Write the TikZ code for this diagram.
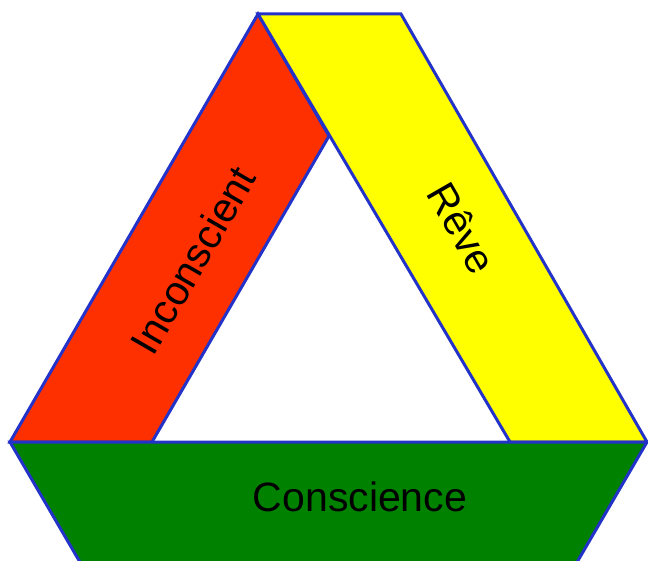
\documentclass[tikz,border=0pt]{standalone}
\usepackage{fontspec}
\setmainfont{Liberation Sans}
\definecolor{bandred}{RGB}{255,48,0}
\definecolor{bandyellow}{RGB}{255,255,0}
\definecolor{bandgreen}{RGB}{0,130,0}
\definecolor{edgeblue}{RGB}{35,50,200}
\begin{document}
\begin{tikzpicture}[x=1pt,y=-1pt,
  band/.style={draw=edgeblue,line width=3pt,line join=miter},
  lbl/.style={font=\fontsize{41}{41}\selectfont,text=black,inner sep=0pt}]
\useasboundingbox (0,0) rectangle (648,561);
\clip (0,0) rectangle (648,561);
\coordinate (apex) at (258,14);
\coordinate (tr) at (401,14);
\coordinate (in) at (329,136);
\coordinate (bl) at (10,442);
\coordinate (br) at (647,442);
\coordinate (ibl) at (152,442);
\coordinate (ibr) at (510,442);
\fill[white] (0,0) rectangle (648,561);
% red band
\filldraw[band,fill=bandred] (apex) -- (in) -- (ibl) -- (bl) -- cycle;
% yellow band
\filldraw[band,fill=bandyellow] (apex) -- (tr) -- (br) -- (ibr) -- cycle;
% green band
\filldraw[band,fill=bandgreen] (bl) -- (br) -- (555,600) -- (102,600) -- cycle;
% labels
\node[lbl,rotate=60] (inc) at (193,260) {Inconscient};
\node[lbl,rotate=-60] (reve) at (462,228) {Rêve};
\node[lbl] (con) at (360,497) {Conscience};
\end{tikzpicture}
\end{document}
